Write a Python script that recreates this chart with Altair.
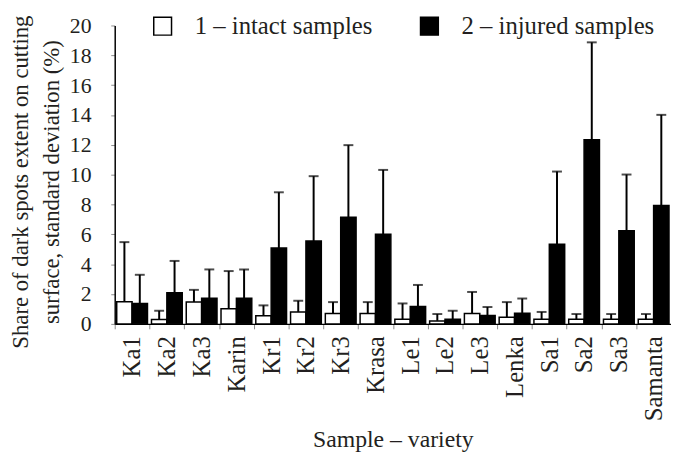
import altair as alt
import pandas as pd

categories = ["Ka1", "Ka2", "Ka3", "Karin", "Kr1", "Kr2", "Kr3", "Krasa",
              "Le1", "Le2", "Le3", "Lenka", "Sa1", "Sa2", "Sa3", "Samanta"]
series_names = ["1 – intact samples", "2 – injured samples"]
intact_mean = [1.48, 0.29, 1.46, 1.02, 0.55, 0.80, 0.69, 0.69,
               0.31, 0.20, 0.69, 0.44, 0.31, 0.31, 0.31, 0.31]
intact_sd = [4.00, 0.59, 0.82, 2.52, 0.69, 0.75, 0.77, 0.77,
             1.06, 0.46, 1.45, 1.02, 0.49, 0.35, 0.35, 0.35]
injured_mean = [1.37, 2.08, 1.72, 1.72, 5.08, 5.55, 7.14, 6.01,
                1.17, 0.31, 0.57, 0.71, 5.33, 12.35, 6.25, 7.93]
injured_sd = [1.92, 2.14, 1.93, 1.93, 3.74, 4.35, 4.84, 4.31,
              1.44, 0.57, 0.56, 0.99, 4.88, 6.52, 3.76, 6.08]
y_ticks = [0, 2, 4, 6, 8, 10, 12, 14, 16, 18, 20]

rows = []
for i, c in enumerate(categories):
    rows.append({"cat": c, "series": series_names[0], "value": intact_mean[i],
                 "top": intact_mean[i] + intact_sd[i]})
    rows.append({"cat": c, "series": series_names[1], "value": injured_mean[i],
                 "top": injured_mean[i] + injured_sd[i]})
df = pd.DataFrame(rows)

FONT = "Liberation Serif"
TXT = "#231f20"

x_enc = alt.X(
    "cat:N", sort=categories,
    scale=alt.Scale(paddingInner=0, paddingOuter=0),
    axis=alt.Axis(title="Sample – variety", labelAngle=270, labelAlign="right",
                  labelBaseline="middle", labelPadding=7, tickBand="extent",
                  tickSize=5, tickColor="#8c8c8c", tickWidth=1,
                  domainColor="black", domainWidth=1.5,
                  labelFont=FONT, labelFontSize=25, labelColor=TXT,
                  titleFont=FONT, titleFontSize=24, titleColor=TXT,
                  titleFontWeight="normal", titlePadding=7, grid=False),
)
xo_enc = alt.XOffset("series:N", sort=series_names,
                     scale=alt.Scale(paddingOuter=0.13, paddingInner=0))
y_scale = alt.Scale(domain=[0, 20], nice=False)
y_axis = alt.Axis(
    title=["Share of dark spots extent on cutting", "surface, standard deviation (%)"],
    values=y_ticks, format="d", tickSize=4, tickColor="#8c8c8c", tickWidth=1,
    domainColor="black", domainWidth=1.5, labelPadding=20,
    labelFont=FONT, labelFontSize=22, labelColor=TXT,
    titleFont=FONT, titleFontSize=23, titleColor=TXT, titleFontWeight="normal",
    titlePadding=6, titleLineHeight=31, titleY=158, grid=False,
)

base = alt.Chart(df)

bars = base.mark_bar(stroke="black", strokeWidth=1.5).encode(
    x=x_enc, xOffset=xo_enc,
    y=alt.Y("value:Q", scale=y_scale, axis=y_axis),
    fill=alt.Fill("series:N", scale=alt.Scale(domain=series_names, range=["white", "black"]),
                  legend=alt.Legend(title=None, orient="none", legendX=36, legendY=-12,
                                    direction="horizontal", symbolType="square",
                                    symbolSize=324, symbolStrokeColor="black",
                                    symbolStrokeWidth=1.5, labelFont=FONT,
                                    labelFontSize=25, labelColor=TXT, labelOffset=20,
                                    labelLimit=0, columnPadding=45, padding=0)),
)
rules = base.mark_rule(color="black", strokeWidth=2).encode(
    x=x_enc, xOffset=xo_enc,
    y=alt.Y("value:Q", scale=y_scale, axis=y_axis), y2="top:Q",
)
caps = base.mark_tick(color="black", thickness=2, size=10).encode(
    x=x_enc, xOffset=xo_enc,
    y=alt.Y("top:Q", scale=y_scale, axis=y_axis),
)

chart = alt.layer(rules, caps, bars).properties(
    width=563, height=302,
    autosize=alt.AutoSizeParams(type="none"),
    padding={"left": 108, "top": 15, "right": 0, "bottom": 130},
).configure_view(stroke=None)

chart.save("out.html", embed_options={"renderer": "svg", "actions": False})
